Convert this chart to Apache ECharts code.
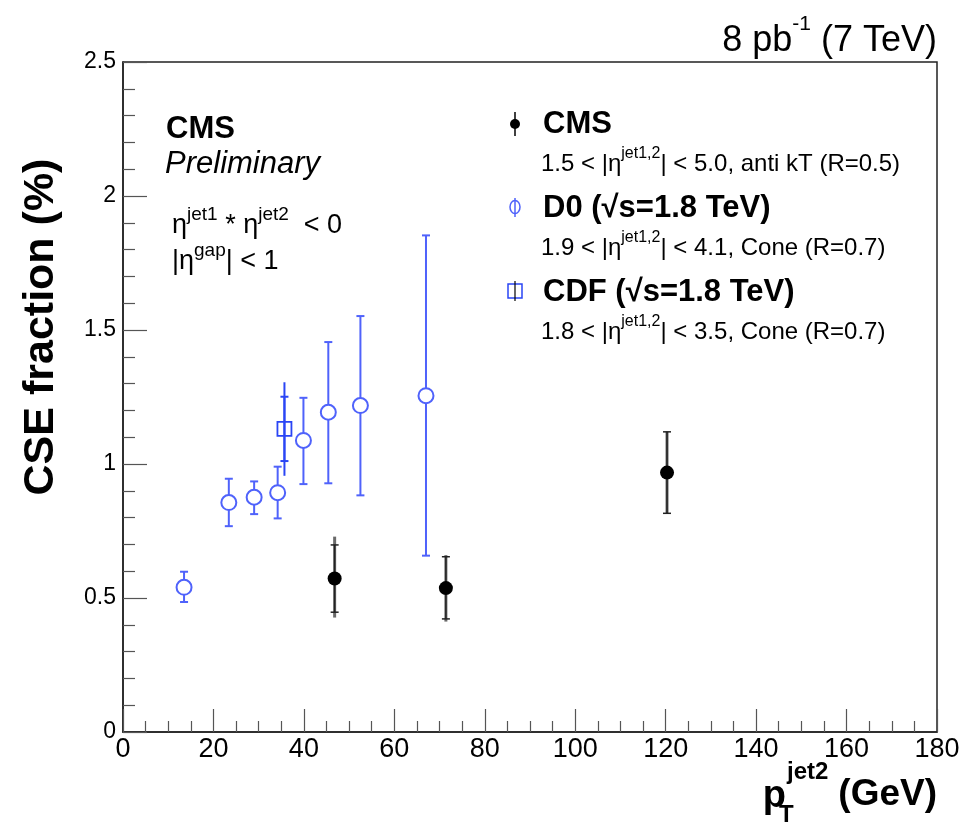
<!DOCTYPE html>
<html>
<head>
<meta charset="utf-8">
<script src="https://cdn.jsdelivr.net/npm/echarts@6/dist/echarts.min.js"></script>
<style>
html,body{margin:0;padding:0;background:#fff;}
#chart{width:967px;height:826px;}
</style>
</head>
<body>
<div id="chart"></div>
<script>
// ---- Data ----
const xTicks = [0, 20, 40, 60, 80, 100, 120, 140, 160, 180];
const yTicks = [0, 0.5, 1, 1.5, 2, 2.5];

const cmsX = [46.8, 71.4, 120.3];
const cmsY = [0.573, 0.537, 0.968];
const cmsStatLo = [0.447, 0.422, 0.816];
const cmsStatHi = [0.698, 0.654, 1.120];
const cmsTotLo = [0.427, 0.412, 0.816];
const cmsTotHi = [0.729, 0.660, 1.120];

const d0X = [13.5, 23.4, 29.0, 34.2, 39.9, 45.4, 52.5, 67.0];
const d0Y = [0.540, 0.856, 0.876, 0.893, 1.088, 1.193, 1.218, 1.255];
const d0Lo = [0.485, 0.768, 0.813, 0.797, 0.925, 0.928, 0.883, 0.658];
const d0Hi = [0.598, 0.945, 0.935, 0.990, 1.247, 1.455, 1.552, 1.853];

const cdfX = [35.7];
const cdfY = [1.131];
const cdfStatLo = [1.011];
const cdfStatHi = [1.251];
const cdfTotLo = [0.956];
const cdfTotHi = [1.305];

// ---- Helpers ----
function errData(xs, lo, hi) { return xs.map((x, i) => [x, lo[i], hi[i]]); }
function ptData(xs, ys) { return xs.map((x, i) => [x, ys[i]]); }
function errRender(capHalf, color, width) {
  return function (params, api) {
    const x = api.value(0);
    const p1 = api.coord([x, api.value(1)]);
    const p2 = api.coord([x, api.value(2)]);
    const children = [{
      type: 'line', shape: {x1: p1[0], y1: p1[1], x2: p2[0], y2: p2[1]},
      style: {stroke: color, lineWidth: width}
    }];
    if (capHalf > 0) {
      children.push({type: 'line', shape: {x1: p1[0]-capHalf, y1: p1[1], x2: p1[0]+capHalf, y2: p1[1]}, style: {stroke: color, lineWidth: width}});
      children.push({type: 'line', shape: {x1: p2[0]-capHalf, y1: p2[1], x2: p2[0]+capHalf, y2: p2[1]}, style: {stroke: color, lineWidth: width}});
    }
    return {type: 'group', children: children};
  };
}

const D0C = '#4f62fb';
const CDFC = '#2a45f5';
const FONT = '"Liberation Sans", Arial, Helvetica, sans-serif';

const chart = echarts.init(document.getElementById('chart'), null, {renderer: 'canvas'});

const supRich = (size, supSize, bold) => ({
  n: {fontSize: size, fontFamily: FONT, fontWeight: bold ? 'bold' : 'normal', color: '#000', lineHeight: size * 1.25, verticalAlign: 'bottom'},
  s: {fontSize: supSize, fontFamily: FONT, fontWeight: bold ? 'bold' : 'normal', color: '#000', lineHeight: size * 1.25, verticalAlign: 'top'}
});

const option = {
  backgroundColor: '#fff',
  animation: false,
  grid: {left: 123, right: 30, top: 62, bottom: 94, show: true, borderColor: '#222', borderWidth: 1.5, backgroundColor: 'transparent'},
  xAxis: {
    type: 'value', min: xTicks[0], max: xTicks[xTicks.length-1], interval: 20,
    axisLine: {lineStyle: {color: '#222', width: 1.5}},
    axisTick: {inside: true, length: 23, lineStyle: {color: '#555', width: 1.2}},
    minorTick: {show: true, splitNumber: 4, length: 11, lineStyle: {color: '#555', width: 1.2}},
    splitLine: {show: false},
    axisLabel: {fontSize: 27, fontFamily: FONT, color: '#000', margin: 4}
  },
  yAxis: {
    type: 'value', min: yTicks[0], max: yTicks[yTicks.length-1], interval: 0.5,
    axisLine: {show: true, lineStyle: {color: '#222', width: 1.5}},
    axisTick: {show: true, inside: true, length: 24, lineStyle: {color: '#555', width: 1.2}},
    minorTick: {show: true, splitNumber: 5, length: 12, lineStyle: {color: '#555', width: 1.2}},
    splitLine: {show: false},
    axisLabel: {fontSize: 23, fontFamily: FONT, color: '#000', margin: 7}
  },
  series: [
    {type: 'custom', renderItem: errRender(0, '#6a6a6a', 3), data: errData(cmsX, cmsTotLo, cmsTotHi), z: 2},
    {type: 'custom', renderItem: errRender(4, '#222', 1.5), data: errData(cmsX, cmsStatLo, cmsStatHi), z: 3},
    {type: 'scatter', data: ptData(cmsX, cmsY), symbol: 'circle', symbolSize: 14, itemStyle: {color: '#000', opacity: 1}, z: 5},
    {type: 'custom', renderItem: errRender(4, D0C, 2), data: errData(d0X, d0Lo, d0Hi), z: 2},
    {type: 'scatter', data: ptData(d0X, d0Y), symbol: 'circle', symbolSize: 15, itemStyle: {color: '#fff', borderColor: D0C, borderWidth: 2, opacity: 1}, z: 5},
    {type: 'custom', renderItem: errRender(0, CDFC, 2), data: errData(cdfX, cdfTotLo, cdfTotHi), z: 2},
    {type: 'custom', renderItem: errRender(4, CDFC, 2), data: errData(cdfX, cdfStatLo, cdfStatHi), z: 3},
    {type: 'scatter', data: ptData(cdfX, cdfY), symbol: 'rect', symbolSize: 14, itemStyle: {color: 'rgba(255,255,255,0)', borderColor: CDFC, borderWidth: 1.8, opacity: 1}, z: 5}
  ],
  graphic: [
    // top right lumi
    {type: 'text', right: 30, top: 14, style: {text: '{n|8 pb}{s|-1}{n| (7 TeV)}', rich: supRich(36, 21, false), align: 'right'}},
    // y title
    {type: 'text', x: 41, y: 327, rotation: Math.PI / 2, style: {text: 'CSE fraction (%)', font: 'bold 43px ' + FONT, fill: '#000', align: 'center', verticalAlign: 'middle'}},
    // x title
    {type: 'text', x: 937, y: 795, style: {text: '(GeV)', font: 'bold 37px ' + FONT, fill: '#000', align: 'right', verticalAlign: 'middle'}},
    {type: 'text', x: 786, y: 797, style: {text: 'p', font: 'bold 38px ' + FONT, fill: '#000', align: 'right', verticalAlign: 'middle'}},
    {type: 'text', x: 787, y: 772, style: {text: 'jet2', font: 'bold 24px ' + FONT, fill: '#000', align: 'left', verticalAlign: 'middle'}},
    {type: 'text', x: 779, y: 815, style: {text: 'T', font: 'bold 24px ' + FONT, fill: '#000', align: 'left', verticalAlign: 'middle'}},
    // CMS Preliminary
    {type: 'text', x: 166, y: 129, style: {text: 'CMS', font: 'bold 31px ' + FONT, fill: '#000', verticalAlign: 'middle'}},
    {type: 'text', x: 165, y: 164, style: {text: 'Preliminary', font: 'italic 31px ' + FONT, fill: '#000', verticalAlign: 'middle'}},
    {type: 'text', x: 172, y: 205, style: {text: '{n|η}{s|jet1}{n| * η}{s|jet2}{n|  < 0}', rich: supRich(27, 19, false)}},
    {type: 'text', x: 172, y: 241, style: {text: '{n||η}{s|gap}{n|| < 1}', rich: supRich(27, 19, false)}},
    // legend markers
    {type: 'line', shape: {x1: 515, y1: 112, x2: 515, y2: 136}, style: {stroke: '#000', lineWidth: 1.5}},
    {type: 'circle', shape: {cx: 515, cy: 124, r: 5}, style: {fill: '#000'}},
    {type: 'line', shape: {x1: 515, y1: 198, x2: 515, y2: 217}, style: {stroke: D0C, lineWidth: 1.5}},
    {type: 'ellipse', shape: {cx: 515, cy: 207, rx: 5, ry: 6.5}, style: {fill: null, stroke: D0C, lineWidth: 1.5}},
    {type: 'rect', shape: {x: 508, y: 284, width: 14, height: 14}, style: {fill: null, stroke: CDFC, lineWidth: 1.5}},
    {type: 'line', shape: {x1: 515, y1: 281, x2: 515, y2: 301}, style: {stroke: '#000', lineWidth: 1.2}},
    // legend texts
    {type: 'text', x: 543, y: 124, style: {text: 'CMS', font: 'bold 31px ' + FONT, fill: '#000', verticalAlign: 'middle'}},
    {type: 'text', x: 541, y: 146, style: {text: '{n|1.5 < |η}{s|jet1,2}{n|| < 5.0, anti kT (R=0.5)}', rich: supRich(24, 16, false)}},
    {type: 'text', x: 543, y: 208, style: {text: 'D0 (√s=1.8 TeV)', font: 'bold 31px ' + FONT, fill: '#000', verticalAlign: 'middle'}},
    {type: 'text', x: 541, y: 230, style: {text: '{n|1.9 < |η}{s|jet1,2}{n|| < 4.1, Cone (R=0.7)}', rich: supRich(24, 16, false)}},
    {type: 'text', x: 543, y: 292, style: {text: 'CDF (√s=1.8 TeV)', font: 'bold 31px ' + FONT, fill: '#000', verticalAlign: 'middle'}},
    {type: 'text', x: 541, y: 314, style: {text: '{n|1.8 < |η}{s|jet1,2}{n|| < 3.5, Cone (R=0.7)}', rich: supRich(24, 16, false)}}
  ]
};
chart.setOption(option);
</script>
</body>
</html>
